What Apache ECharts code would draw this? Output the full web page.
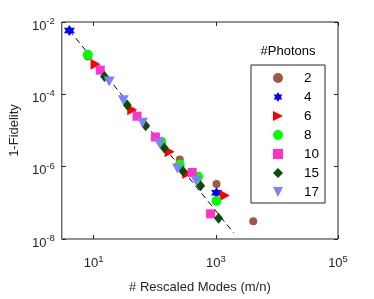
<!DOCTYPE html>
<html><head><meta charset="utf-8">
<script src="https://cdn.jsdelivr.net/npm/echarts@6/dist/echarts.min.js"></script>
<style>html,body{margin:0;padding:0;background:#fff}#c{width:374px;height:299px}</style>
</head><body><div id="c"></div>
<script>
// ---- data ----
const photonLabels = ['2','4','6','8','10','15','17'];
const modes2 = [8, 256, 1024, 4096];
const infid2 = [1.12e-3, 1.57e-6, 3.3e-7, 3.1e-8];
const modes4 = [4, 1024];
const infid4 = [5.85e-3, 1.89e-7];
const modes6 = [10.7, 42.7, 175, 341, 1400];
const infid6 = [6.75e-4, 3.77e-5, 2.57e-6, 6.5e-7, 1.6e-7];
const modes8 = [8, 128, 256, 512, 1024];
const infid8 = [1.25e-3, 4.9e-6, 1.13e-6, 5.3e-7, 1.13e-7];
const modes10 = [12.8, 51.2, 102.4, 409.6, 819.2];
const infid10 = [4.67e-4, 2.48e-5, 6.6e-6, 6.9e-7, 4.97e-8];
const modes15 = [15, 35.3, 70.8, 143, 290, 562, 1107];
const infid15 = [3.1e-4, 5.1e-5, 1.36e-5, 3.29e-6, 7.5e-7, 2.97e-7, 3.76e-8];
const modes17 = [17.9, 30.5, 62.8, 120, 235, 476];
const infid17 = [2.28e-4, 6.9e-5, 1.64e-5, 4.35e-6, 8.9e-7, 4.0e-7];
const fitModes = [4, 1972];
const fitInfid = [5.85e-3, 1.45e-8];
const xTicks = [10, 1000, 100000];
const yTicks = [1e-8, 1e-6, 1e-4, 1e-2];

const FONT = 'Liberation Sans, Arial, Helvetica, sans-serif';
const AX = '#262626';
const hexagram = 'path://M0,-10L2.887,-5L8.66,-5L5.774,0L8.66,5L2.887,5L0,10L-2.887,5L-8.66,5L-5.774,0L-8.66,-5L-2.887,-5Z';
const triRight = 'path://M0,0L10,5L0,10Z';
const triDown = 'path://M0,0L10,0L5,10Z';

function pairs(xs, ys){ return xs.map((x,i)=>[x, ys[i]]); }
function expFmt(v){ const e = Math.round(Math.log10(v)); return '10{s|' + e + '}'; }
const labelRich = { s: { fontSize: 9.5, color: AX, fontFamily: FONT, padding: [0,0,9,0] } };

const styles = [
  {symbol:'circle', size:8, color:'#a0574a'},
  {symbol:hexagram, size:11, color:'#0000ff'},
  {symbol:triRight, size:[10,11], color:'#ff0000'},
  {symbol:'circle', size:10, color:'#00ff00'},
  {symbol:'rect', size:9, color:'#ff33cc'},
  {symbol:'diamond', size:[9,11], color:'#0a4d0a'},
  {symbol:triDown, size:[11,10], color:'#8080ff'}
];
const seriesData = [pairs(modes2,infid2), pairs(modes4,infid4), pairs(modes6,infid6), pairs(modes8,infid8), pairs(modes10,infid10), pairs(modes15,infid15), pairs(modes17,infid17)];

const series = [{
  type:'line', name:'fit', data: pairs(fitModes, fitInfid), symbol:'none', silent:true,
  lineStyle:{color:'#000', width:1, type:[6,4]}, z:1
}];
photonLabels.forEach((n,i)=>{
  const s = styles[i];
  series.push({type:'scatter', name:n, data:seriesData[i], symbol:s.symbol, symbolSize:s.size,
    itemStyle:{color:s.color, opacity:1}, z:2+i});
});
const legendData = photonLabels.map((n,i)=>({name:n, icon:styles[i].symbol}));

const xBase = {type:'log', min:3, max:100000, gridIndex:0,
  splitLine:{show:false}, axisLine:{show:false},
  axisTick:{show:true, inside:true, length:4, customValues:xTicks, lineStyle:{color:AX}}};
const yBase = {type:'log', min:1e-8, max:1e-2, gridIndex:0,
  splitLine:{show:false}, axisLine:{show:false},
  axisTick:{show:true, inside:true, length:4, customValues:yTicks, lineStyle:{color:AX}}};

const chart = echarts.init(document.getElementById('c'), null, {renderer:'canvas'});
chart.setOption({
  animation:false,
  backgroundColor:'#fff',
  grid:{left:57, right:36, top:22, bottom:53, show:true, borderColor:AX, borderWidth:1, backgroundColor:'transparent'},
  xAxis:[
    Object.assign({}, xBase, {position:'bottom', name:'# Rescaled Modes (m/n)', nameLocation:'middle', nameGap:42,
      nameTextStyle:{fontSize:13, color:AX, fontFamily:FONT},
      axisLabel:{show:true, customValues:xTicks, margin:15, formatter:expFmt, fontSize:13, color:AX, fontFamily:FONT, rich:labelRich}}),
    Object.assign({}, xBase, {position:'top', axisLabel:{show:false}})
  ],
  yAxis:[
    Object.assign({}, yBase, {position:'left', name:'1-Fidelity', nameLocation:'middle', nameGap:38,
      nameTextStyle:{fontSize:13, color:AX, fontFamily:FONT},
      axisLabel:{show:true, customValues:yTicks, margin:7, padding:[8,0,0,0], formatter:expFmt, fontSize:13, color:AX, fontFamily:FONT, rich:labelRich}}),
    Object.assign({}, yBase, {position:'right', axisLabel:{show:false}})
  ],
  legend:{
    orient:'vertical', left:251, top:65,
    data: legendData,
    itemWidth:10, itemHeight:10, itemGap:5,
    padding:[6,6,4,22],
    borderColor:AX, borderWidth:1, borderRadius:0,
    backgroundColor:'#fff',
    textStyle:{fontSize:13.5, color:'#000', fontFamily:FONT, padding:[0,0,0,16]},
    selectedMode:false
  },
  graphic:[{type:'text', x:288, y:51, style:{text:'#Photons', fill:'#000', font:'13px '+FONT, textAlign:'center', textVerticalAlign:'middle'}}],
  series: series
});
</script></body></html>
